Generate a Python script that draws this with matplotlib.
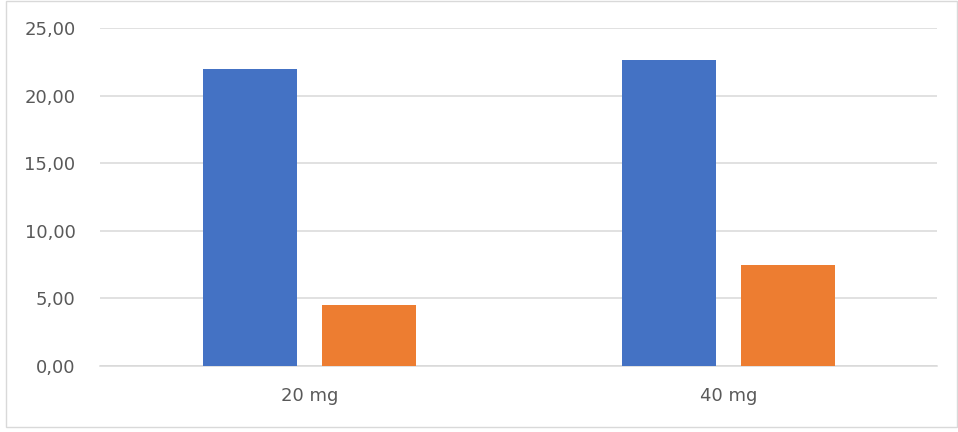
import matplotlib
matplotlib.use('Agg')
import matplotlib.pyplot as plt
import numpy as np
from matplotlib.patches import Rectangle
from matplotlib.ticker import FuncFormatter

# dose groups and the two measured series
doses = ['20 mg', '40 mg']
series_blue = [21.96, 22.65]
series_orange = [4.48, 7.44]

y_ticks = [0, 5, 10, 15, 20, 25]

blue = '#4472C4'
orange = '#ED7D31'
grid_gray = '#D9D9D9'
text_gray = '#595959'

fig = plt.figure(figsize=(9.58, 4.32), dpi=100)
ax = fig.add_axes([0.1049, 0.1532, 0.8737, 0.7813])

x = np.arange(len(doses))
w = 0.225
off = 0.142
ax.bar(x - off, series_blue, w, color=blue, zorder=3)
ax.bar(x + off, series_orange, w, color=orange, zorder=3)

ax.set_xlim(-0.5, len(doses) - 0.5)
ax.set_ylim(0, 25)
ax.set_yticks(y_ticks)
ax.yaxis.set_major_formatter(FuncFormatter(lambda v, p: ('%.2f' % v).replace('.', ',')))
ax.set_xticks(x)
ax.set_xticklabels(doses)

ax.grid(axis='y', color=grid_gray, linewidth=1.1, zorder=0)
for s in ['top', 'right', 'left']:
    ax.spines[s].set_visible(False)
ax.spines['bottom'].set_color(grid_gray)
ax.spines['bottom'].set_linewidth(1.1)
ax.tick_params(axis='both', length=0, labelsize=13, colors=text_gray)
ax.tick_params(axis='y', pad=18)
ax.tick_params(axis='x', pad=15)

# chart frame
fig.patches.append(Rectangle((6 / 958, 5 / 432), 951 / 958, 426 / 432,
                             transform=fig.transFigure, fill=False,
                             edgecolor=grid_gray, linewidth=1))

fig.savefig('out.png', dpi=100)
